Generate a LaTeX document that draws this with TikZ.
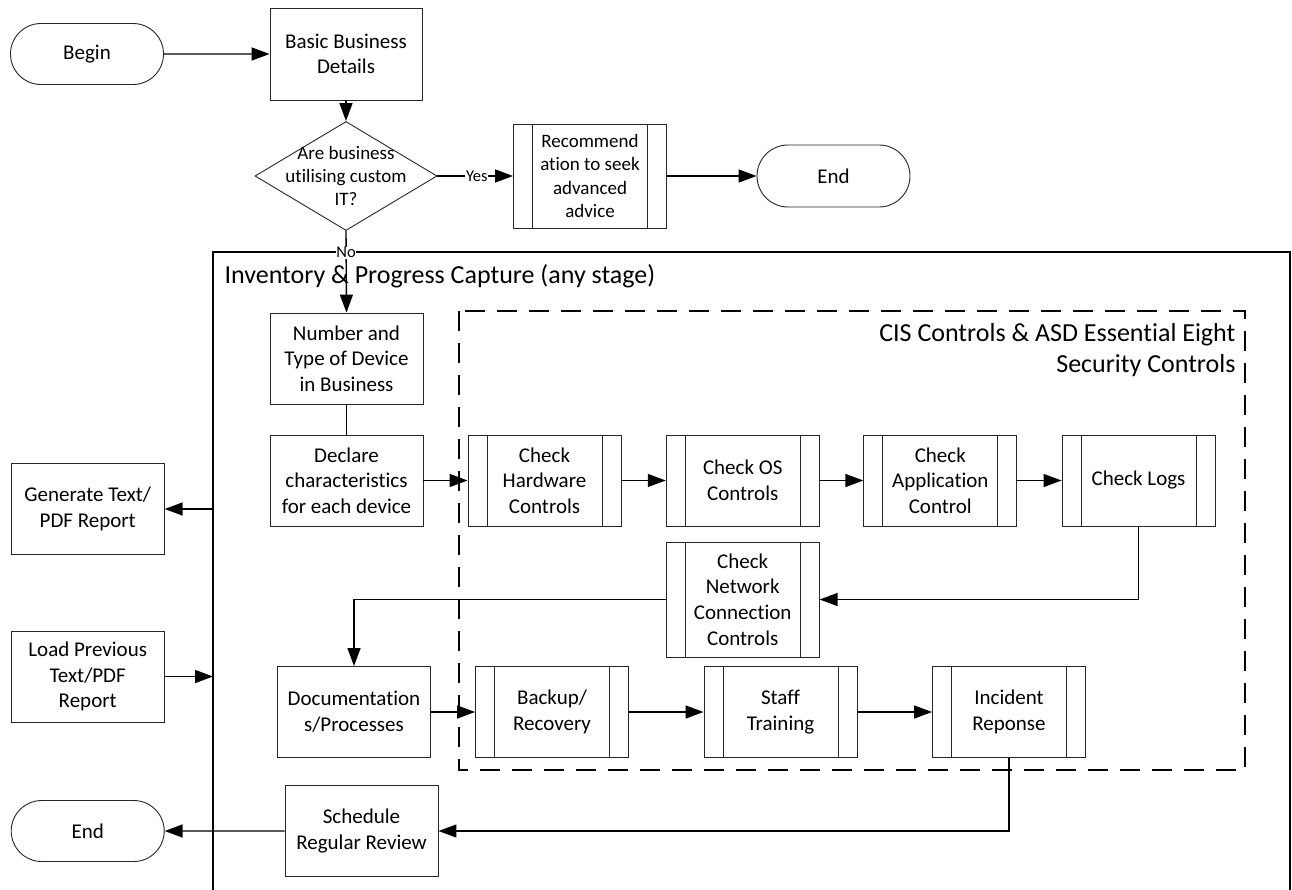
\documentclass[tikz,border=0pt]{standalone}
\usepackage{fontspec}
\setmainfont{Carlito}[Ligatures={NoCommon}]
\usetikzlibrary{arrows.meta,shapes.geometric,shapes.misc}
\begin{document}
\begin{tikzpicture}[x=1pt,y=-1pt,
  txt/.style={font=\fontsize{21}{25.6}\selectfont, align=center, text=black},
  smalltxt/.style={font=\fontsize{19}{23.4}\selectfont, align=center, text=black},
  bx/.style={draw=black!85, line width=0.9pt, inner sep=0pt, fill=white, txt,
             minimum width=153pt, minimum height=91pt},
  pp/.style={bx, path picture={
      \draw[black!85, line width=0.9pt]
        ([xshift=19pt]path picture bounding box.north west) -- ([xshift=19pt]path picture bounding box.south west)
        ([xshift=-19pt]path picture bounding box.north east) -- ([xshift=-19pt]path picture bounding box.south east);}},
  term/.style={draw=black!85, line width=0.9pt, shape=rounded rectangle, inner sep=0pt, txt,
             minimum width=153pt, minimum height=61pt},
  conn/.style={draw=black, line width=1.4pt, -{Triangle[length=18pt,width=13pt]}},
  plain/.style={draw=black, line width=1.4pt},
  lbl/.style={font=\fontsize{16.5}{19}\selectfont, fill=white, inner sep=0.6pt, text=black}
]
\useasboundingbox (0,0) rectangle (1292,890);

% container and dashed group
\draw[line width=1.4pt] (213,891) -- (213,252) -- (1290,252) -- (1290,891);
\node[anchor=west, font=\fontsize{26}{31.7}\selectfont] (invtitle) at (221,276) {Inventory \& Progress Capture (any stage)};
\draw[line width=1.4pt, dash pattern=on 20pt off 12pt] (459,311) rectangle (1245,770);
\node[anchor=east, align=right, font=\fontsize{26}{31.7}\selectfont] (cistitle) at (1239,350) {CIS Controls \& ASD Essential Eight\\Security Controls};

% top section
\node[term] (begin) at (87,54) {Begin};
\node[bx, minimum width=152pt, minimum height=92pt] (bbd) at (346,54) {Basic Business\\Details};
\node[draw=black!85, line width=0.9pt, shape=diamond, inner sep=0pt,
      minimum width=182pt, minimum height=109pt,
      label={[smalltxt]center:Are business\\utilising custom\\IT?}] (dia) at (346,176) {};
\node[pp, smalltxt, minimum height=104pt] (rec) at (590,176) {Recommend\\ation to seek\\advanced\\advice};
\node[term, minimum height=62pt] (end1) at (833.5,176) {End};

% main flow
\node[bx] (num) at (346.5,358.5) {Number and\\Type of Device\\in Business};
\node[bx] (dec) at (346.5,480.5) {Declare\\characteristics\\for each device};
\node[pp] (hw) at (544.5,480.5) {Check\\Hardware\\Controls};
\node[pp] (os) at (742.7,480.5) {Check OS\\Controls};
\node[pp] (app) at (940.3,480.5) {Check\\Application\\Control};
\node[pp] (logs) at (1138.5,480.5) {Check Logs};
\node[pp, minimum height=115pt] (net) at (742.7,599.5) {Check\\Network\\Connection\\Controls};
\node[bx] (doc) at (354,712) {Documentation\\s/Processes};
\node[pp] (backup) at (552,712) {Backup/\\Recovery};
\node[pp] (staff) at (780.5,712) {Staff\\Training};
\node[pp] (inc) at (1009,712) {Incident\\Reponse};
\node[bx] (sched) at (361.5,831) {Schedule\\Regular Review};
\node[term] (end2) at (87.7,831) {End};

% left side
\node[bx] (gen) at (87.7,509) {Generate Text/\\PDF Report};
\node[bx] (load) at (87.7,676.5) {Load Previous\\Text/PDF\\Report};
\coordinate (cgen) at (213,509);
\coordinate (cload) at (213,676.5);

% connectors
\draw[conn] (begin) -- (bbd);
\draw[conn] (bbd) -- (dia);
\draw[conn] (dia.east) -- node[lbl, pos=0.52] {Yes} (rec.west);
\draw[conn] (rec.east |- end1.west) -- (end1.west);
\draw[conn] (dia.south) -- node[lbl, pos=0.265] {No} (num.north);
\draw[plain] (num) -- (dec);
\draw[conn] (dec) -- (hw);
\draw[conn] (hw) -- (os);
\draw[conn] (os) -- (app);
\draw[conn] (app) -- (logs);
\draw[conn] (logs.south) |- (net.east);
\draw[conn] (net.west) -| (doc.north);
\draw[conn] (doc) -- (backup);
\draw[conn] (backup) -- (staff);
\draw[conn] (staff) -- (inc);
\draw[conn] (inc.south) |- (sched.east);
\draw[conn] (sched) -- (end2);
\draw[conn] (cgen) -- (gen.east);
\draw[conn] (load.east) -- (cload);
\end{tikzpicture}
\end{document}
